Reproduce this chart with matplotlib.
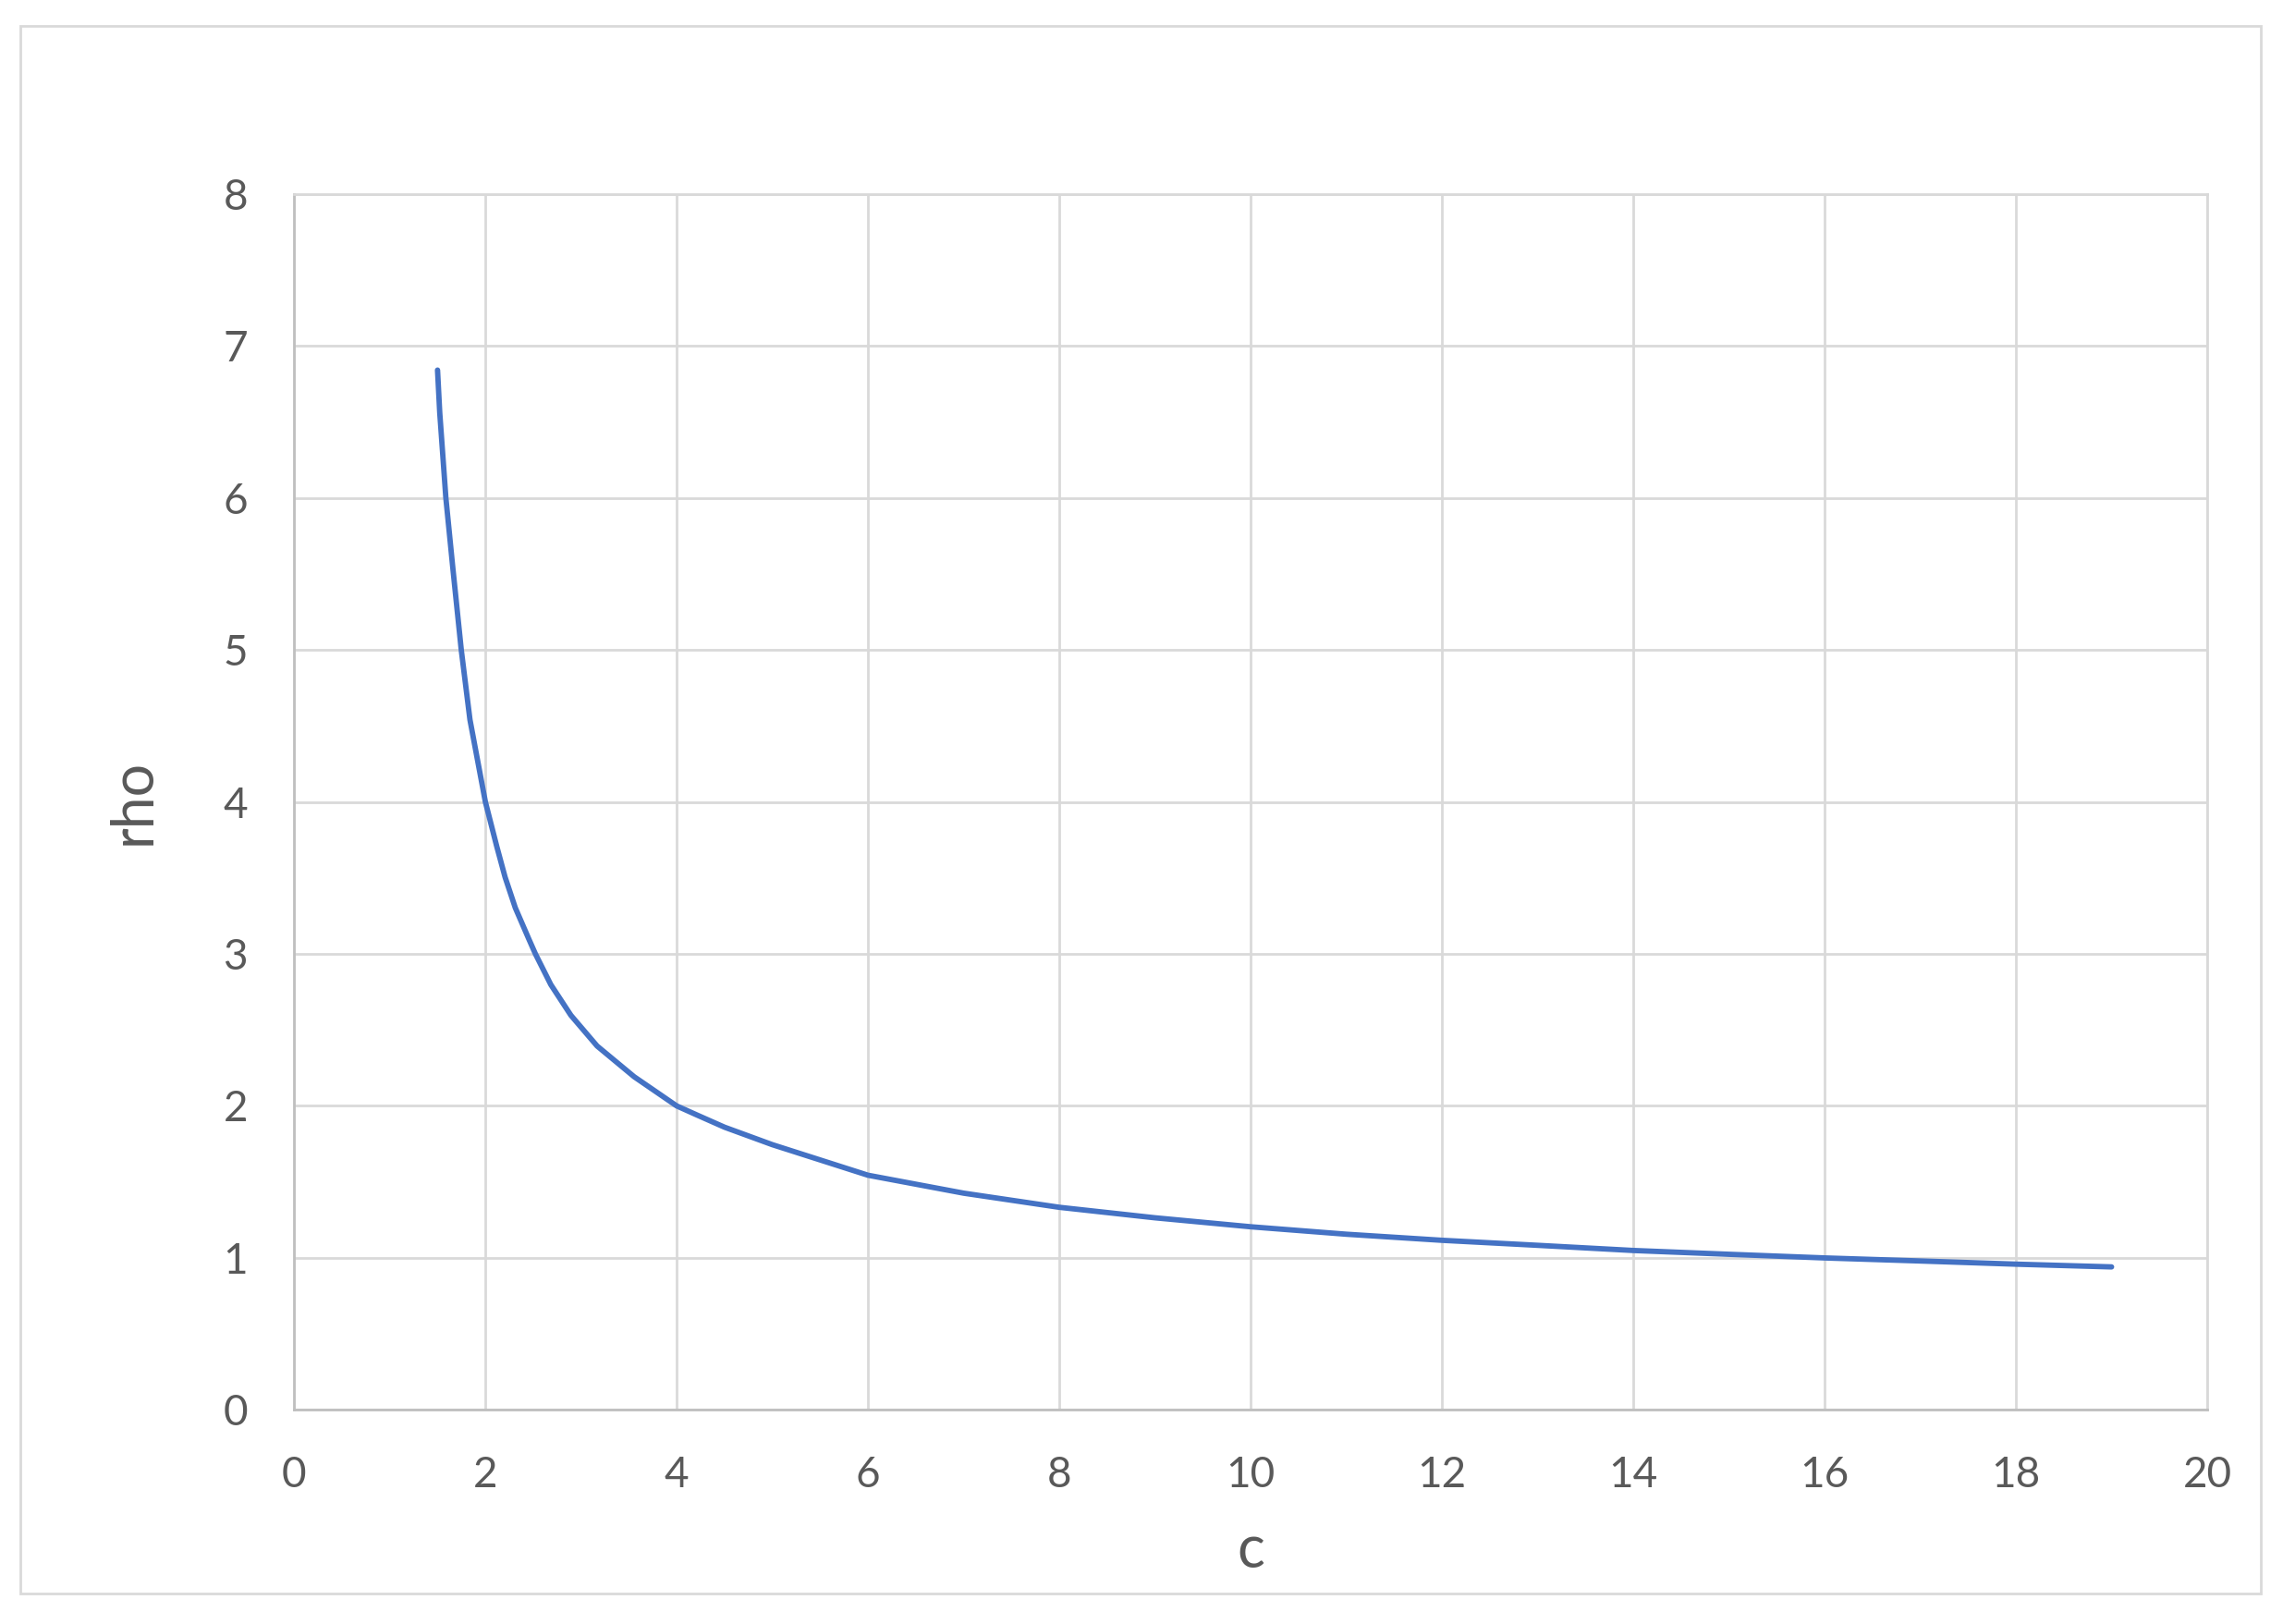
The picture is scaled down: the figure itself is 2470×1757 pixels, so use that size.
import matplotlib
matplotlib.use("Agg")
import matplotlib.pyplot as plt
from matplotlib.patches import Rectangle

# values
c = [1.5, 1.523, 1.587, 1.658, 1.748, 1.839, 2.0, 2.119, 2.206, 2.313, 2.452,
     2.523, 2.684, 2.894, 3.168, 3.555, 4.0, 4.216, 4.5, 5.0, 6.0, 7.0, 8.0,
     9.0, 10.0, 11.0, 12.0, 13.0, 14.0, 15.0, 16.0, 17.0, 18.0, 19.0]
rho = [6.84, 6.56, 6.0, 5.55, 5.0, 4.54, 4.0, 3.707, 3.505, 3.303, 3.101,
       3.0, 2.798, 2.596, 2.394, 2.192, 2.0, 1.939, 1.86, 1.745, 1.544, 1.426,
       1.333, 1.264, 1.205, 1.156, 1.116, 1.083, 1.049, 1.024, 1.0, 0.98,
       0.959, 0.941]

x_ticks = list(range(0, 21, 2))
y_ticks = list(range(0, 9))

plt.rcParams['font.family'] = ['Lato', 'DejaVu Sans']
text_col = '#595959'
grid_col = '#D9D9D9'
axis_col = '#BFBFBF'

fig = plt.figure(figsize=(24.70, 17.57), dpi=100)
ax = fig.add_axes([0.1288, 0.1318, 0.838, 0.7489])

# outer chart border
fig.patches.append(Rectangle((0.0089, 0.0188), 0.9815, 0.9651, transform=fig.transFigure,
                             fill=False, edgecolor=grid_col, linewidth=2.0))

ax.plot(c, rho, color='#4472C4', linewidth=4.2,
        solid_capstyle='round', solid_joinstyle='round')

ax.set_xlim(0, 20)
ax.set_ylim(0, 8)
ax.set_xticks(x_ticks)
ax.set_yticks(y_ticks)
ax.grid(True, color=grid_col, linewidth=2.0)
ax.set_axisbelow(True)

for side in ['top', 'right']:
    ax.spines[side].set_color(grid_col)
    ax.spines[side].set_linewidth(2.0)
for side in ['left', 'bottom']:
    ax.spines[side].set_color(axis_col)
    ax.spines[side].set_linewidth(2.0)

ax.tick_params(axis='both', length=0, labelsize=33, labelcolor=text_col)
ax.tick_params(axis='y', pad=36)
ax.tick_params(axis='x', pad=36)

ax.set_xlabel('c', fontsize=45, color=text_col)
ax.set_ylabel('rho', fontsize=45, color=text_col, va='center')
ax.xaxis.set_label_coords(0.5, -0.116)
ax.yaxis.set_label_coords(-0.0837, 0.5)
ax.xaxis.label.set_va('center')

fig.savefig('out.png', dpi=100)
